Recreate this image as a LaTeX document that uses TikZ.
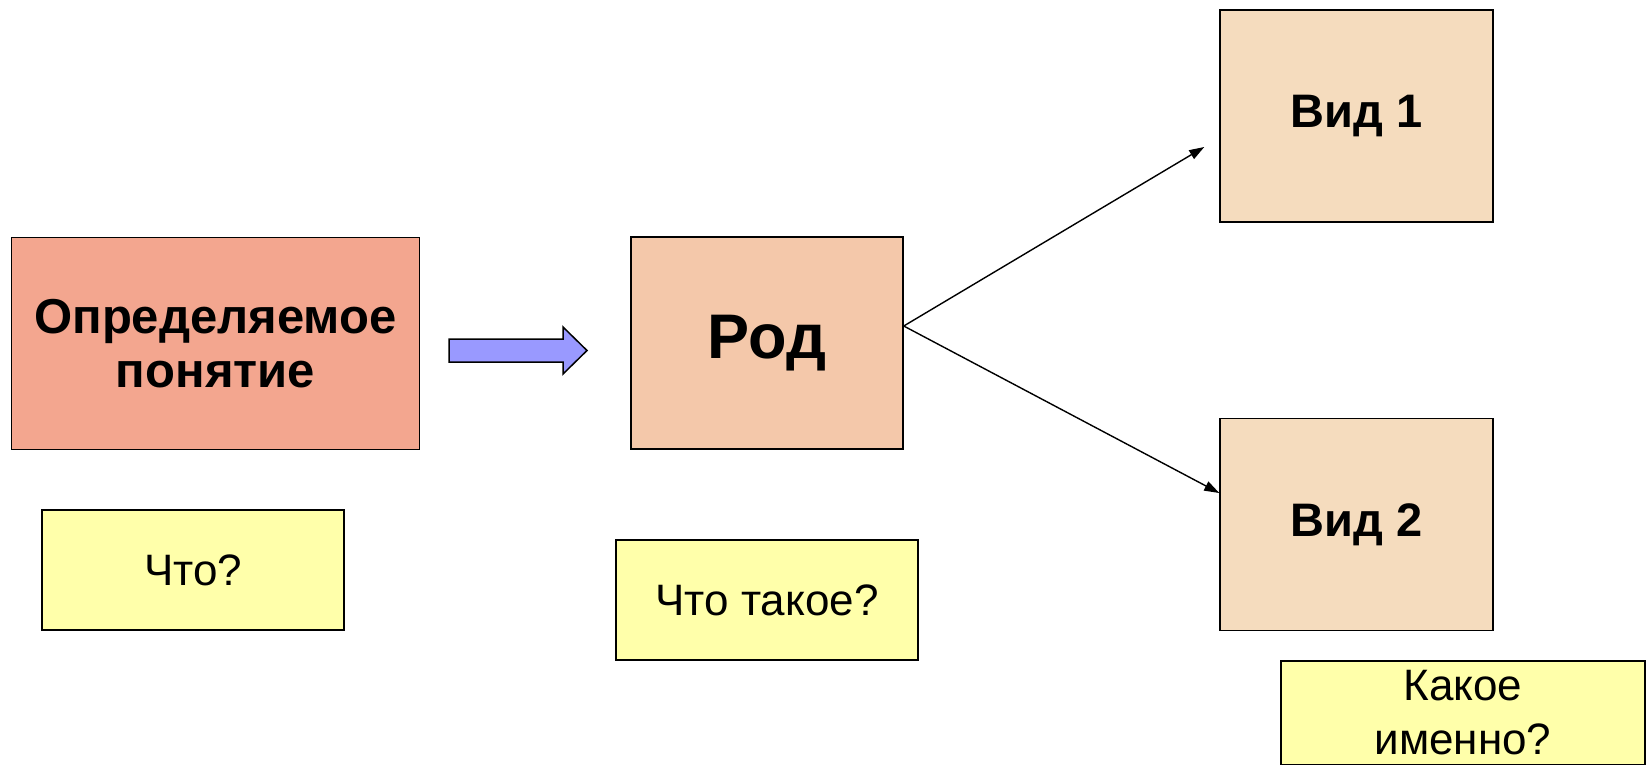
\documentclass[tikz,border=0pt]{standalone}
\usepackage{fontspec}
\setmainfont{Liberation Sans}
\usetikzlibrary{arrows.meta,positioning,calc}
\definecolor{defred}{RGB}{243,166,143}
\definecolor{rodtan}{RGB}{244,200,170}
\definecolor{vidtan}{RGB}{245,220,190}
\definecolor{askyel}{RGB}{255,255,170}
\definecolor{arrblue}{RGB}{153,153,255}
\tikzstyle{concept}=[draw,line width=1.5pt,inner sep=0pt,align=center]
\tikzstyle{question}=[concept,fill=askyel,minimum width=302pt,minimum height=120pt,font=\fontsize{44}{54}\selectfont]
\tikzstyle{link}=[line width=1.4pt,-{Triangle[length=15pt,width=10pt]}]

\begin{document}
\begin{tikzpicture}[x=1pt,y=-1pt]
    \useasboundingbox (0,0) rectangle (1651,764);
    \node [concept,fill=defred,minimum width=408pt,minimum height=212pt,
      font=\fontsize{49}{54}\selectfont\bfseries] (def) at (215.5,343.5) {Определяемое\\понятие};
    \node [concept,fill=rodtan,minimum width=272pt,minimum height=212pt,
      font=\fontsize{63}{70}\selectfont\bfseries] (rod) at (767,343) {Род};
    \node [concept,fill=vidtan,minimum width=273pt,minimum height=212pt,
      font=\fontsize{47}{55}\selectfont\bfseries] (vid1) at (1356.5,116) {Вид 1};
    \node [concept,fill=vidtan,minimum width=273pt,minimum height=212pt,
      font=\fontsize{47}{55}\selectfont\bfseries] (vid2) at (1356.5,524.5) {Вид 2};
    \node [question] (what) at (193,570) {Что?};
    \node [question] (whatis) at (767,600) {Что такое?};
    \node [question,minimum width=364pt,minimum height=104pt] (which) at (1463,713) {Какое\\именно?};
    % block arrow
    \draw [line width=1.5pt,fill=arrblue] (449,339) -- (563,339) -- (563,327) -- (587,350.5)
      -- (563,374) -- (563,362) -- (449,362) -- cycle;
    % species
    \coordinate (fork) at ([yshift=17pt]rod.east);
    \coordinate (tip1) at ([xshift=-15pt,yshift=-31pt]vid1.west);
    \draw [link] (fork) -- (tip1);
    \draw [link] (fork) -- ([yshift=31.5pt]vid2.west);
\end{tikzpicture}
\end{document}
